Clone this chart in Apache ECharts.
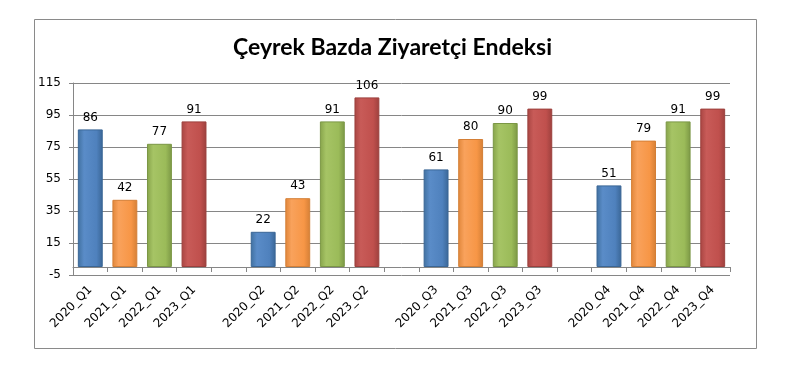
<!DOCTYPE html>
<html>
<head>
<meta charset="utf-8">
<script src="https://cdn.jsdelivr.net/npm/echarts@6/dist/echarts.min.js"></script>
<style>
  html, body { margin: 0; padding: 0; background: #fff; }
  #chart { width: 785px; height: 378px; }
</style>
</head>
<body>
<div id="chart"></div>
<script>
const years = ['2020', '2021', '2022', '2023']
const quarters = ['Q1', 'Q2', 'Q3', 'Q4']
// values per quarter, one per year
const q1Values = [86, 42, 77, 91]
const q2Values = [22, 43, 91, 106]
const q3Values = [61, 80, 90, 99]
const q4Values = [51, 79, 91, 99]
const yTicks = [-5, 15, 35, 55, 75, 95, 115]

const quarterValues = [q1Values, q2Values, q3Values, q4Values]

// year colours: edge, light, base, dark
const yearColors = [
  ['#40709f', '#5a8cc8', '#4f81bd', '#3a6696'],
  ['#e0863a', '#f9a25c', '#f79646', '#d47f36'],
  ['#86a34a', '#a6c465', '#9bbb59', '#7b9745'],
  ['#a84542', '#c85b58', '#c0504d', '#9c403d']
]

function barColor(c) {
  return new echarts.graphic.LinearGradient(0, 0, 1, 0, [
    { offset: 0, color: c[0] },
    { offset: 0.25, color: c[1] },
    { offset: 0.75, color: c[2] },
    { offset: 1, color: c[3] }
  ])
}

const categories = []
const barData = []
quarters.forEach((q, qi) => {
  years.forEach((y, yi) => {
    categories.push(y + '_' + q)
    barData.push({
      value: quarterValues[qi][yi],
      itemStyle: { color: barColor(yearColors[yi]), borderColor: yearColors[yi][3], borderWidth: 1 }
    })
  })
  // empty slot between quarters
  if (qi < quarters.length - 1) {
    categories.push('')
    barData.push('-')
  }
})

const chart = echarts.init(document.getElementById('chart'))

chart.setOption({
  animation: false,
  title: {
    text: 'Çeyrek Bazda Ziyaretçi Endeksi',
    left: 'center',
    top: 31,
    textStyle: {
      fontFamily: 'Lato, sans-serif',
      fontWeight: 'bold',
      fontSize: 23,
      color: '#000'
    }
  },
  graphic: [{
    type: 'rect',
    shape: { x: 34.5, y: 19.5, width: 722, height: 329 },
    style: { fill: 'none', stroke: '#8a8a8a', lineWidth: 1 },
    silent: true
  }],
  grid: {
    left: 73,
    right: 55,
    top: 83,
    bottom: 103
  },
  xAxis: {
    type: 'category',
    data: categories,
    axisLine: {
      onZero: true,
      lineStyle: { color: '#868686', width: 1 }
    },
    axisTick: {
      show: true,
      interval: 0,
      length: 5,
      lineStyle: { color: '#868686' }
    },
    axisLabel: {
      interval: 0,
      rotate: 45,
      margin: 13,
      color: '#000',
      fontFamily: '"DejaVu Sans", sans-serif',
      fontSize: 12
    },
    splitLine: { show: false }
  },
  yAxis: {
    type: 'value',
    min: yTicks[0],
    max: yTicks[yTicks.length - 1],
    interval: yTicks[1] - yTicks[0],
    axisLine: {
      show: true,
      lineStyle: { color: '#868686', width: 1 }
    },
    axisTick: {
      show: true,
      length: 4,
      lineStyle: { color: '#868686' }
    },
    axisLabel: {
      color: '#000',
      margin: 12,
      fontFamily: '"DejaVu Sans", sans-serif',
      fontSize: 12
    },
    splitLine: {
      show: true,
      lineStyle: { color: '#868686', width: 1 }
    }
  },
  series: [{
    type: 'bar',
    data: barData,
    barWidth: '72%',
    label: {
      show: true,
      position: 'top',
      distance: 6,
      color: '#000',
      fontFamily: '"DejaVu Sans", sans-serif',
      fontSize: 12
    }
  }]
})
</script>
</body>
</html>
